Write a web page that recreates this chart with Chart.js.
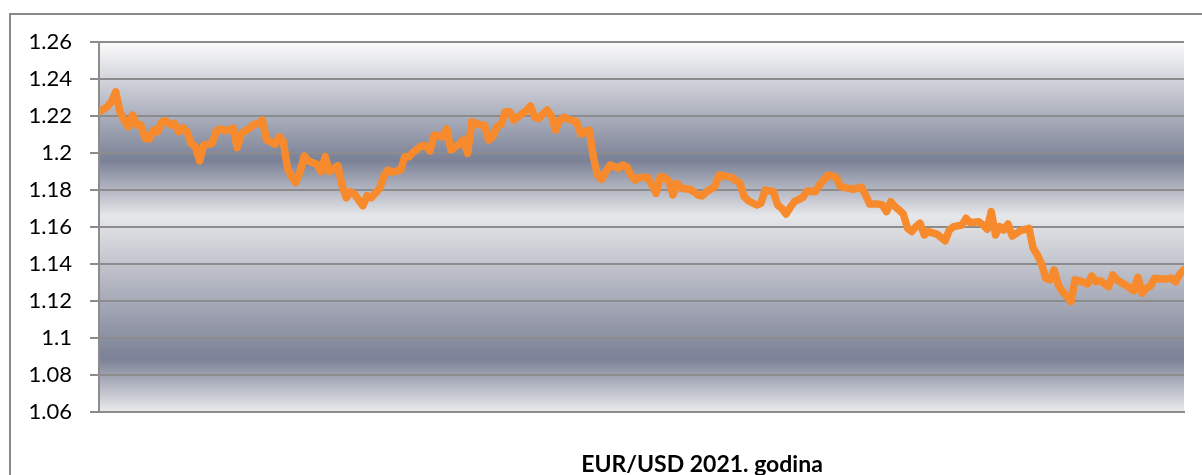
<!DOCTYPE html>
<html>
<head>
<meta charset="utf-8">
<title>EUR/USD 2021. godina</title>
<script src="https://cdn.jsdelivr.net/npm/chart.js@4/dist/chart.umd.min.js"></script>
<style>
  html, body { margin: 0; padding: 0; background: #fff; overflow: hidden; }
  #fx { display: block; }
</style>
</head>
<body>
<canvas id="fx" width="1202" height="475"></canvas>
<script>
/* ---------- Data ---------- */
const tradingDays = [
  0, 2, 3, 4, 5, 6, 7, 8, 9, 10, 11, 12, 13, 14, 15, 16, 17, 18, 19, 20,
  21, 22, 23, 24, 25, 26, 27, 28, 29, 30, 32, 33, 34, 36, 37, 38, 39, 40, 41, 42,
  43, 44, 45, 46, 47, 48, 49, 50, 52, 53, 54, 55, 56, 57, 58, 59, 60, 61, 63, 64,
  65, 67, 68, 69, 70, 72, 73, 74, 75, 77, 78, 79, 80, 81, 82, 83, 84, 86, 87, 88,
  89, 91, 92, 93, 94, 95, 96, 97, 98, 99, 100, 102, 103, 104, 105, 106, 107, 108, 109, 110,
  111, 113, 114, 115, 116, 117, 118, 119, 120, 121, 122, 124, 125, 126, 127, 128, 129, 131, 132, 133,
  134, 135, 136, 137, 138, 139, 141, 142, 143, 144, 145, 147, 148, 150, 151, 153, 154, 155, 157, 158,
  159, 161, 162, 163, 164, 165, 166, 168, 169, 171, 172, 174, 175, 176, 177, 179, 180, 182, 183, 184,
  186, 187, 188, 189, 190, 191, 192, 193, 194, 195, 196, 197, 198, 200, 202, 203, 204, 206, 207, 208,
  210, 211, 212, 213, 214, 215, 216, 217, 218, 220, 222, 223, 224, 225, 226, 227, 228, 229, 230, 231,
  232, 233, 234, 236, 237, 238, 239, 241, 242, 243, 245, 247, 248, 249, 250, 251, 252, 254, 256, 257,
  258, 259
];

const eurUsd = [
  1.2223, 1.2250, 1.2277, 1.2331, 1.2223, 1.2178, 1.2142, 1.2205, 1.2151, 1.2151, 1.2080, 1.2076, 1.2124, 1.2115, 1.2169, 1.2173, 1.2151, 1.2160, 1.2115, 1.2137,
  1.2115, 1.2052, 1.2034, 1.1957, 1.2043, 1.2047, 1.2052, 1.2119, 1.2130, 1.2119, 1.2134, 1.2029, 1.2106, 1.2134, 1.2155, 1.2160, 1.2178, 1.2070, 1.2061, 1.2047,
  1.2088, 1.2061, 1.1917, 1.1872, 1.1841, 1.1899, 1.1984, 1.1957, 1.1939, 1.1899, 1.1980, 1.1899, 1.1914, 1.1931, 1.1827, 1.1758, 1.1791, 1.1777, 1.1715, 1.1769,
  1.1758, 1.1809, 1.1876, 1.1908, 1.1896, 1.1908, 1.1980, 1.1980, 1.2004, 1.2039, 1.2039, 1.2011, 1.2097, 1.2092, 1.2088, 1.2130, 1.2016, 1.2049, 1.2070, 1.1998,
  1.2169, 1.2151, 1.2151, 1.2070, 1.2088, 1.2142, 1.2155, 1.2223, 1.2223, 1.2178, 1.2196, 1.2229, 1.2254, 1.2193, 1.2187, 1.2211, 1.2232, 1.2200, 1.2124, 1.2178,
  1.2193, 1.2175, 1.2169, 1.2103, 1.2115, 1.2124, 1.1980, 1.1881, 1.1858, 1.1899, 1.1935, 1.1917, 1.1935, 1.1926, 1.1881, 1.1854, 1.1868, 1.1868, 1.1827, 1.1782,
  1.1872, 1.1868, 1.1850, 1.1773, 1.1836, 1.1809, 1.1804, 1.1791, 1.1773, 1.1768, 1.1791, 1.1818, 1.1881, 1.1872, 1.1868, 1.1836, 1.1764, 1.1742, 1.1719, 1.1728,
  1.1800, 1.1791, 1.1719, 1.1701, 1.1670, 1.1706, 1.1737, 1.1760, 1.1795, 1.1791, 1.1827, 1.1881, 1.1876, 1.1868, 1.1818, 1.1809, 1.1804, 1.1815, 1.1773, 1.1724,
  1.1724, 1.1719, 1.1683, 1.1737, 1.1710, 1.1692, 1.1670, 1.1593, 1.1575, 1.1602, 1.1620, 1.1557, 1.1575, 1.1562, 1.1526, 1.1584, 1.1602, 1.1611, 1.1647, 1.1623,
  1.1629, 1.1611, 1.1588, 1.1683, 1.1557, 1.1602, 1.1584, 1.1616, 1.1551, 1.1580, 1.1593, 1.1485, 1.1449, 1.1400, 1.1323, 1.1314, 1.1368, 1.1287, 1.1250, 1.1227,
  1.1196, 1.1314, 1.1310, 1.1292, 1.1335, 1.1304, 1.1310, 1.1277, 1.1341, 1.1314, 1.1287, 1.1256, 1.1328, 1.1242, 1.1269, 1.1281, 1.1323, 1.1318, 1.1323, 1.1304,
  1.1346, 1.1370
];

const yMin = 1.06;
const yMax = 1.26;
const yStep = 0.02;
const chartTitle = "EUR/USD 2021. godina";

/* ---------- Plugins ---------- */
// shaded plot area, like the old office chart style
const plotShading = {
  id: "plotShading",
  beforeDraw(chart) {
    const { ctx, chartArea: a } = chart;
    const g = ctx.createLinearGradient(0, a.top, 0, a.bottom);
    g.addColorStop(0.0, "#fbfbfb");
    g.addColorStop(0.32, "#7b8196");
    g.addColorStop(0.47, "#e6e7e9");
    g.addColorStop(0.855, "#7b8196");
    g.addColorStop(1.0, "#eaebec");
    ctx.save();
    ctx.fillStyle = g;
    ctx.fillRect(a.left, a.top, a.right - a.left, a.bottom - a.top);
    ctx.restore();
  },
};

// outer frame + title under the plot
const frameAndTitle = {
  id: "frameAndTitle",
  afterDraw(chart) {
    const ctx = chart.ctx;
    ctx.save();
    ctx.strokeStyle = "#8a8a8a";
    ctx.lineWidth = 2;
    ctx.strokeRect(10, 14, 1400, 600);
    ctx.fillStyle = "#000";
    ctx.font = "bold 23px Lato, 'Open Sans', sans-serif";
    ctx.textAlign = "center";
    ctx.textBaseline = "alphabetic";
    ctx.fillText(chartTitle, 702, 472);
    ctx.restore();
  },
};

/* ---------- Chart ---------- */
const gridGrey = "#8c8c8c";

new Chart(document.getElementById("fx"), {
  type: "line",
  data: {
    datasets: [
      {
        label: chartTitle,
        data: tradingDays.map((d, i) => ({ x: d, y: eurUsd[i] })),
        borderColor: "#f78a2c",
        borderWidth: 7.5,
        borderCapStyle: "round",
        borderJoinStyle: "round",
        pointRadius: 0,
        tension: 0,
        fill: false,
      },
    ],
  },
  options: {
    responsive: false,
    animation: false,
    devicePixelRatio: 1,
    layout: { padding: { left: 0, top: 42, right: 18, bottom: 63 } },
    plugins: {
      legend: { display: false },
      tooltip: { enabled: false },
      title: { display: false },
    },
    scales: {
      x: {
        type: "linear",
        min: 0,
        max: 259,
        ticks: { display: false },
        grid: { display: false },
        border: { display: true, color: gridGrey, width: 2 },
        afterFit: (s) => { s.height = 0; },
      },
      y: {
        min: yMin,
        max: yMax,
        ticks: {
          stepSize: yStep,
          padding: 18,
          color: "#000",
          font: { family: "Lato, 'Open Sans', sans-serif", size: 22 },
          callback: (v) => String(+v.toFixed(2)),
        },
        grid: { color: gridGrey, lineWidth: 2, tickLength: 9, drawTicks: true },
        border: { display: true, color: gridGrey, width: 2 },
        afterFit: (s) => { s.width = 99; },
      },
    },
  },
  plugins: [plotShading, frameAndTitle],
});
</script>
</body>
</html>
